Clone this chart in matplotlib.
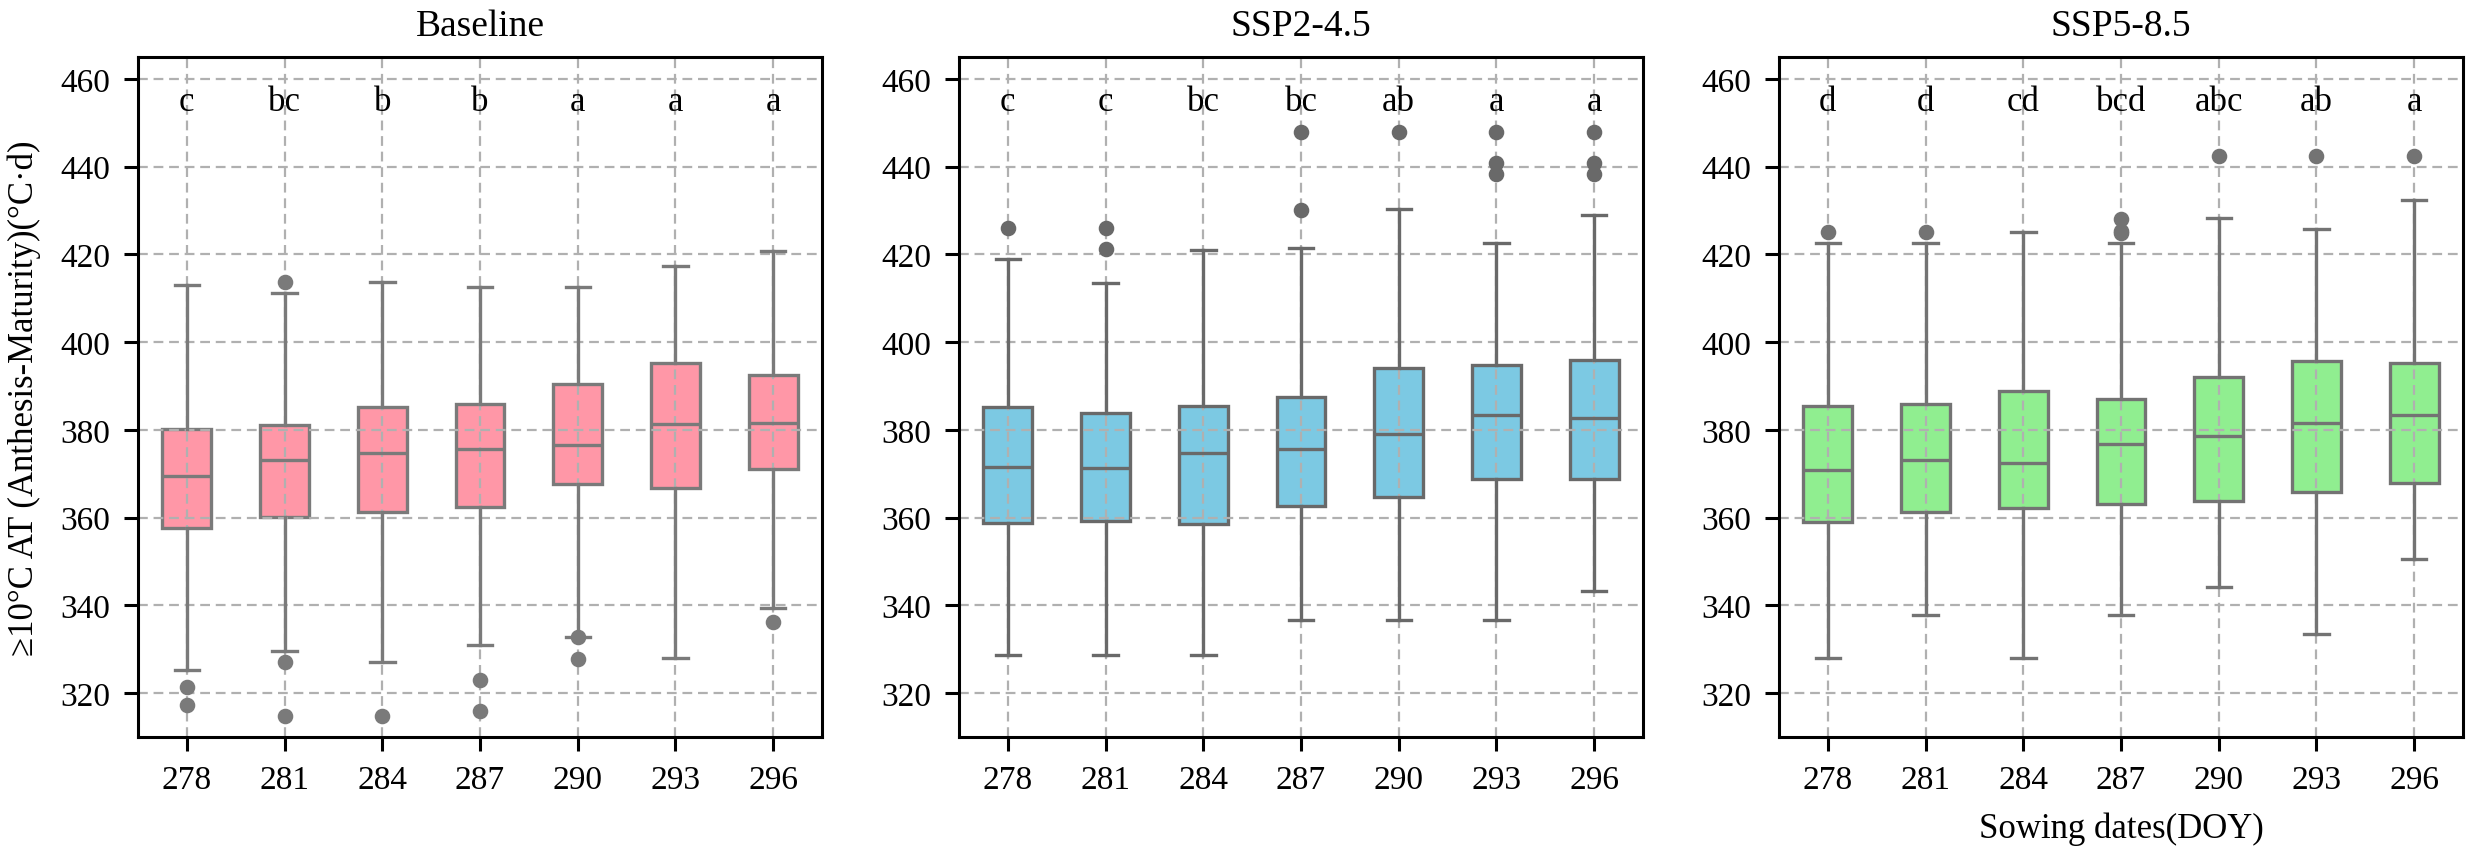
import colorsys
import numpy as np
import matplotlib
matplotlib.use("Agg")
import matplotlib.pyplot as plt
import matplotlib.colors as mcolors

plt.rcParams["font.family"] = ["Liberation Serif", "DejaVu Serif"]

dates = [278, 281, 284, 287, 290, 293, 296]
scenarios = ["Baseline", "SSP2-4.5", "SSP5-8.5"]
box_colors = ["#FF97A7", "#7CC9E3", "#90EE90"]

# Baseline
base_lo = [325.2, 329.7, 327.2, 331.0, 332.9, 328.1, 339.5]
base_q1 = [357.7, 360.2, 361.2, 362.4, 367.7, 366.8, 371.1]
base_med = [369.5, 373.2, 374.7, 375.7, 376.6, 381.3, 381.6]
base_q3 = [380.3, 381.2, 385.3, 386.0, 390.5, 395.3, 392.5]
base_hi = [413.1, 411.3, 413.8, 412.6, 412.6, 417.3, 420.7]
base_fliers = [[321.5, 317.4], [413.7, 327.0, 314.7], [314.7], [323.1, 316.0],
               [332.7, 327.8], [], [336.1]]
base_letters = ["c", "bc", "b", "b", "a", "a", "a"]

# SSP2-4.5
ssp2_lo = [328.6, 328.6, 328.6, 336.6, 336.6, 336.6, 343.2]
ssp2_q1 = [358.7, 359.3, 358.6, 362.7, 364.8, 368.9, 368.9]
ssp2_med = [371.6, 371.4, 374.7, 375.7, 379.1, 383.4, 382.8]
ssp2_q3 = [385.3, 383.8, 385.4, 387.4, 394.1, 394.8, 396.0]
ssp2_hi = [418.9, 413.5, 421.0, 421.4, 430.3, 422.5, 429.0]
ssp2_fliers = [[426.0], [426.0, 421.3], [], [448.0, 430.2], [448.0],
               [448.0, 440.9, 438.4], [448.0, 440.9, 438.4]]
ssp2_letters = ["c", "c", "bc", "bc", "ab", "a", "a"]

# SSP5-8.5
ssp5_lo = [328.1, 337.9, 328.1, 337.9, 344.1, 333.5, 350.5]
ssp5_q1 = [359.0, 361.2, 362.1, 363.1, 363.7, 365.8, 368.0]
ssp5_med = [370.8, 373.2, 372.4, 376.7, 378.6, 381.6, 383.5]
ssp5_q3 = [385.4, 386.0, 388.8, 387.1, 392.1, 395.6, 395.3]
ssp5_hi = [422.5, 422.5, 425.0, 422.5, 428.2, 425.9, 432.3]
ssp5_fliers = [[425.0], [425.0], [], [428.1, 425.4, 424.8], [442.5],
               [442.5], [442.5]]
ssp5_letters = ["d", "d", "cd", "bcd", "abc", "ab", "a"]

panels = [
    (base_lo, base_q1, base_med, base_q3, base_hi, base_fliers, base_letters),
    (ssp2_lo, ssp2_q1, ssp2_med, ssp2_q3, ssp2_hi, ssp2_fliers, ssp2_letters),
    (ssp5_lo, ssp5_q1, ssp5_med, ssp5_q3, ssp5_hi, ssp5_fliers, ssp5_letters),
]


def line_gray(color):
    # same rule seaborn uses for the box outline colour
    lum = colorsys.rgb_to_hls(*mcolors.to_rgb(color))[1] * 0.6
    return mcolors.rgb2hex((lum, lum, lum))


fig = plt.figure(figsize=(12.34, 4.265), dpi=200)
W, H = 2468, 853
lefts = [138, 959, 1779]
aw, top, bot = 684, 58, 738
pos = np.arange(len(dates))

for k, (lefts_px, name, fc, data) in enumerate(zip(lefts, scenarios, box_colors, panels)):
    lo, q1, med, q3, hi, fl, letters = data
    ax = fig.add_axes([lefts_px / W, 1 - bot / H, aw / W, (bot - top) / H])
    ec = line_gray(fc)
    stats = [dict(whislo=lo[i], q1=q1[i], med=med[i], q3=q3[i], whishi=hi[i],
                  fliers=fl[i]) for i in range(len(dates))]
    ax.bxp(stats, positions=pos, widths=0.5, patch_artist=True, showfliers=True,
           boxprops=dict(facecolor=fc, edgecolor=ec, linewidth=1.2, zorder=1),
           medianprops=dict(color=ec, linewidth=1.2),
           whiskerprops=dict(color=ec, linewidth=1.2),
           capprops=dict(color=ec, linewidth=1.2),
           flierprops=dict(marker="o", markerfacecolor=ec, markeredgecolor=ec,
                           markersize=4.6, linestyle="none"))
    for i, t in enumerate(letters):
        ax.text(pos[i], 452.9, t, ha="center", va="baseline", fontsize=12.5)

    ax.set_xlim(-0.5, 6.5)
    ax.set_ylim(310, 465)
    ax.set_yticks(np.arange(320, 461, 20))
    ax.set_xticks(pos)
    ax.set_xticklabels([str(d) for d in dates])
    ax.grid(True, color="#b0b0b0", linewidth=0.8, linestyle=(0, (4.4, 2.6)))
    ax.set_axisbelow("line")
    ax.tick_params(direction="out", length=5, width=1.1, labelsize=12, pad=5)
    for s in ax.spines.values():
        s.set_linewidth(1.1)
        s.set_color("black")
    ax.set_title(name, fontsize=13.5, pad=8)
    if k == 0:
        ax.set_ylabel("≥10°C AT (Anthesis-Maturity)(°C·d)", fontsize=12.5, labelpad=7)
    if k == 2:
        ax.set_xlabel("Sowing dates(DOY)", fontsize=12.5, labelpad=6)

fig.savefig("out.png", dpi=200)
